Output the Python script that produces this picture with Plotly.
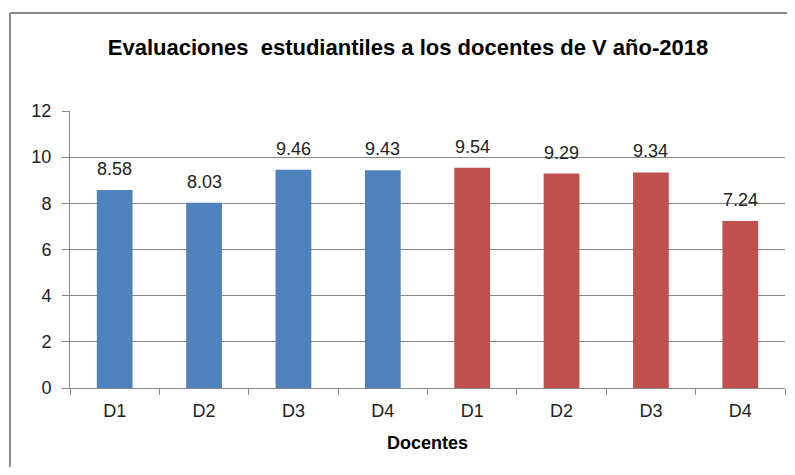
import plotly.graph_objects as go

docentes = ["D1", "D2", "D3", "D4"]
grupo_a_vals = [8.58, 8.03, 9.46, 9.43]
grupo_b_vals = [9.54, 9.29, 9.34, 7.24]
grupo_a_ids = ["A-" + d for d in docentes]
grupo_b_ids = ["B-" + d for d in docentes]
y_ticks = [0, 2, 4, 6, 8, 10, 12]

title_text = "Evaluaciones  estudiantiles a los docentes de V año-2018"
x_title = "Docentes"

FONT = "Liberation Sans, Arial"
GRID = "#878787"

fig = go.Figure()
fig.add_trace(go.Bar(x=grupo_a_ids, y=grupo_a_vals, marker_color="#4F81BD",
                     marker_line_width=0, width=0.4, showlegend=False))
fig.add_trace(go.Bar(x=grupo_b_ids, y=grupo_b_vals, marker_color="#C0504D",
                     marker_line_width=0, width=0.4, showlegend=False))

for xs, vs in ((grupo_a_ids, grupo_a_vals), (grupo_b_ids, grupo_b_vals)):
    for xv, v in zip(xs, vs):
        fig.add_annotation(x=xv, y=v, text=f"{v:.2f}", showarrow=False,
                           yanchor="bottom", yshift=9,
                           font=dict(family=FONT, size=18, color="#222222"))

# outer chart border: only top and left edges are visible in the picture
border = dict(color="#8a8a8a", width=2)
fig.add_shape(type="line", xref="paper", yref="paper",
              x0=-0.084, x1=1.2, y0=1.354, y1=1.354, line=border)
fig.add_shape(type="line", xref="paper", yref="paper",
              x0=-0.084, x1=-0.084, y0=-0.6, y1=1.354, line=border)

fig.update_layout(
    width=779, height=459,
    margin=dict(l=62, r=2, t=103, b=79),
    paper_bgcolor="white", plot_bgcolor="white",
    barmode="overlay",
    title=dict(text=f"<b>{title_text}</b>", x=0.5135, xref="container",
               xanchor="center", y=0.915, yref="container", yanchor="middle",
               font=dict(family=FONT, size=22, color="black")),
    font=dict(family=FONT, color="#222222"),
)
fig.update_xaxes(
    type="category",
    categoryorder="array", categoryarray=grupo_a_ids + grupo_b_ids,
    tickvals=grupo_a_ids + grupo_b_ids, ticktext=docentes + docentes,
    tickson="boundaries", ticks="outside", ticklen=6, tickcolor=GRID,
    ticklabelstandoff=6,
    showline=True, linecolor=GRID, linewidth=1,
    showgrid=False,
    tickfont=dict(family=FONT, size=18, color="#222222"),
    title=dict(text=f"<b>{x_title}</b>", font=dict(family=FONT, size=18, color="black"),
               standoff=16),
)
fig.update_yaxes(
    range=[0, 12], tickvals=y_ticks,
    showgrid=True, gridcolor=GRID, gridwidth=1,
    showline=True, linecolor=GRID, linewidth=1,
    ticks="outside", ticklen=7, tickcolor=GRID,
    ticklabelstandoff=7,
    zeroline=False,
    tickfont=dict(family=FONT, size=18, color="#222222"),
)

fig.write_html("out.html")
